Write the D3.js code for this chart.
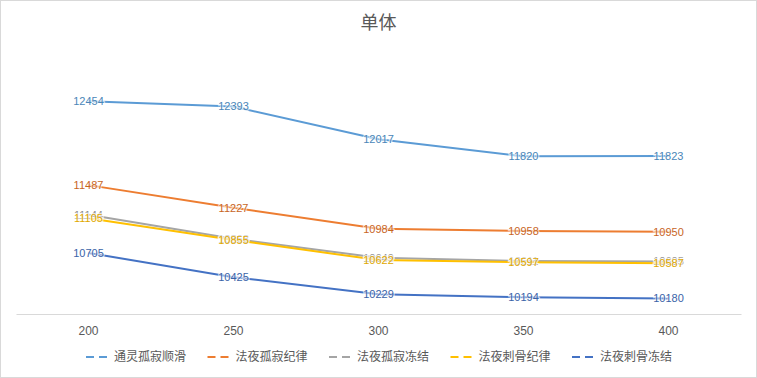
<!DOCTYPE html>
<html>
<head>
<meta charset="utf-8">
<script src="https://cdn.jsdelivr.net/npm/d3@7"></script>
<style>
  body { margin: 0; background: #fff; }
  #chart svg { display: block; }
</style>
</head>
<body>
<div id="chart"></div>
<script>
const categories = ["200", "250", "300", "350", "400"];
const series_names = ["通灵孤寂顺滑", "法夜孤寂纪律", "法夜孤寂冻结", "法夜刺骨纪律", "法夜刺骨冻结"];
const series_colors = ["#5b9bd5", "#ed7d31", "#a5a5a5", "#ffc000", "#4472c4"];
const label_colors = ["#4a86b8", "#c8651f", "#8c8c8c", "#e0a800", "#3a63a8"];
const s1 = [12454, 12393, 12017, 11820, 11823];
const s2 = [11487, 11227, 10984, 10958, 10950];
const s3 = [11144, 10868, 10649, 10611, 10605];
const s4 = [11105, 10855, 10622, 10597, 10587];
const s5 = [10705, 10425, 10229, 10194, 10180];
const y_domain = [10000, 13000];

const W = 757, H = 378;
const margin = {left: 16, right: 16, top: 54, bottom: 64};

const svg = d3.select("#chart").append("svg")
  .attr("width", W).attr("height", H);

svg.append("rect")
  .attr("x", 0.5).attr("y", 0.5)
  .attr("width", W - 1).attr("height", H - 1)
  .attr("fill", "#fff").attr("stroke", "#d9d9d9");

const x = d3.scaleBand()
  .domain(categories)
  .range([margin.left, W - margin.right]);

const y = d3.scaleLinear()
  .domain(y_domain)
  .range([H - margin.bottom, margin.top]);

// title
svg.append("text")
  .attr("x", W / 2).attr("y", 29)
  .attr("text-anchor", "middle")
  .attr("font-family", "'Noto Sans CJK SC', sans-serif")
  .attr("font-size", 18)
  .attr("fill", "#595959")
  .text("单体");

// x axis
const xAxis = svg.append("g")
  .attr("transform", `translate(0,${H - margin.bottom})`)
  .call(d3.axisBottom(x).tickSize(0).tickPadding(12));
xAxis.select(".domain").attr("stroke", "#d9d9d9");
xAxis.selectAll("text")
  .attr("font-family", "'Liberation Sans', sans-serif")
  .attr("font-size", 12)
  .attr("fill", "#595959");

const all = [s1, s2, s3, s4, s5];
const cx = d => x(d) + x.bandwidth() / 2;

const line = d3.line()
  .x((d, i) => cx(categories[i]))
  .y(d => y(d));

svg.append("g").selectAll("path")
  .data(all)
  .join("path")
  .attr("d", d => line(d))
  .attr("fill", "none")
  .attr("stroke", (d, i) => series_colors[i])
  .attr("stroke-width", 2);

// data labels
all.forEach((vals, si) => {
  svg.append("g").selectAll("text")
    .data(vals)
    .join("text")
    .attr("x", (d, i) => cx(categories[i]))
    .attr("y", d => y(d))
    .attr("dy", "0.35em")
    .attr("text-anchor", "middle")
    .attr("font-family", "'Liberation Sans', sans-serif")
    .attr("font-size", 11)
    .attr("fill", label_colors[si])
    .attr("stroke", "#fff")
    .attr("stroke-width", 2.5)
    .attr("stroke-opacity", 0.6)
    .attr("paint-order", "stroke")
    .text(d => d);
});

// legend
const item_w = 121.5;
const legend_x0 = 86;
const legend = svg.append("g")
  .attr("transform", `translate(0,357)`);
const items = legend.selectAll("g")
  .data(series_names)
  .join("g")
  .attr("transform", (d, i) => `translate(${legend_x0 + i * item_w},0)`);
items.append("line")
  .attr("x1", 0).attr("x2", 25)
  .attr("y1", 0).attr("y2", 0)
  .attr("stroke", (d, i) => series_colors[i])
  .attr("stroke-width", 2)
  .attr("stroke-dasharray", "8,5");
items.append("text")
  .attr("x", 28).attr("y", 0)
  .attr("dy", "0.35em")
  .attr("font-family", "'Noto Sans CJK SC', sans-serif")
  .attr("font-size", 12)
  .attr("fill", "#595959")
  .text(d => d);
</script>
</body>
</html>
